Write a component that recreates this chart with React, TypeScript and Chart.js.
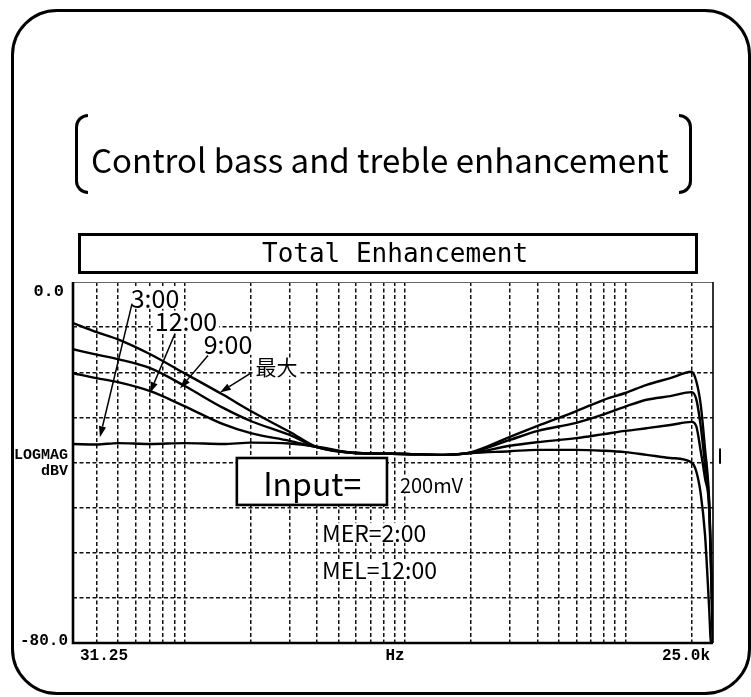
import React, { useEffect, useRef } from "react";
import { Chart, registerables } from "chart.js";

Chart.register(...registerables);

// ---- data ----
const FREQS = [31.25, 40, 50, 70, 100, 150, 200, 300, 400, 600, 1000, 1500, 2000, 3000, 4000, 6000, 8000, 10000, 12500, 16000, 20000, 21000, 22000, 23000, 24000, 24500, 25000];
const MAX_DB = [-9.1, -11.1, -12.7, -16.0, -20.2, -25.0, -28.6, -33.2, -36.6, -37.9, -38.1, -38.3, -37.7, -34.3, -31.9, -28.6, -26.1, -24.6, -22.8, -21.3, -19.9, -22.0, -27.3, -37.0, -48.0, -62.0, -80.0];
const NINE_DB = [-14.9, -16.1, -17.1, -19.1, -23.0, -27.9, -30.8, -33.9, -36.6, -37.9, -38.1, -38.3, -37.8, -35.0, -33.0, -31.2, -29.3, -27.6, -26.1, -25.3, -24.4, -26.0, -32.0, -40.5, -49.0, -63.0, -80.0];
const TWELVE_DB = [-20.2, -21.3, -22.2, -24.2, -27.5, -31.5, -33.5, -35.2, -36.6, -37.9, -38.1, -38.3, -37.9, -36.3, -35.5, -34.6, -33.7, -33.0, -32.4, -31.7, -31.0, -32.0, -37.5, -43.5, -50.0, -64.0, -80.0];
const THREE_DB = [-35.9, -36.0, -35.7, -35.9, -35.7, -35.9, -35.6, -35.8, -36.5, -37.9, -38.1, -38.3, -37.9, -37.5, -37.2, -37.2, -37.4, -37.7, -38.3, -39.0, -40.0, -42.0, -47.0, -56.0, -72.0, -80.0, -80.0];

const X_MIN = 31.25;
const X_MAX = 25000;
const Y_MIN = -80;
const Y_MAX = 0;
const X_GRID = [40, 50, 60, 70, 80, 90, 100, 200, 300, 400, 500, 600, 700, 800, 900, 1000, 2000, 3000, 4000, 5000, 6000, 7000, 8000, 9000, 10000, 20000];
const Y_GRID = [-10, -20, -30, -40, -50, -60, -70];

const Y_TOP_LABEL = "0.0";
const Y_BOTTOM_LABEL = "-80.0";
const Y_UNIT_LABELS = ["LOGMAG", "dBV"];
const X_LABELS = ["31.25", "Hz", "25.0k"];

// annotation anchors in data coordinates (frequency, dB)
const CURVE_LABELS = [
  { text: "3:00", f: 73.6, db: -3.6, size: 25 },
  { text: "12:00", f: 101.7, db: -8.7, size: 25 },
  { text: "9:00", f: 157.7, db: -13.8, size: 25 },
  { text: "最大", f: 262, db: -18.8, size: 21 },
];
const ARROWS = [
  { f0: 57.9, d0: -4.8, f1: 41.4, d1: -34.4 },
  { f0: 90.7, d0: -11.4, f1: 69.8, d1: -24.6 },
  { f0: 128, d0: -16.3, f1: 95.5, d1: -23.6 },
  { f0: 198.5, d0: -20.3, f1: 145, d1: -24.5 },
];
const INPUT_BOX = { f0: 173, f1: 830, d0: -39.0, d1: -49.4, text: "Input=", tf: 380, td: -44.8 };
const NOTES = [
  { text: "200mV", f: 950, db: -45.0, size: 20 },
  { text: "MER=2:00", f: 421, db: -55.6, size: 23 },
  { text: "MEL=12:00", f: 421, db: -63.8, size: 23 },
];
const REF_MARK = { d0: -36.9, d1: -40.3 };

const TITLE = "Control bass and treble enhancement";
const SUBTITLE = "Total Enhancement";

function whiteBehind(ctx: any, text: string, x: number, y: number, align: string, h: number) {
  const w = ctx.measureText(text).width;
  const left = align === "center" ? x - w / 2 : align === "right" ? x - w : x;
  ctx.save();
  ctx.fillStyle = "#fff";
  ctx.fillRect(left - 2, y - h / 2, w + 4, h);
  ctx.restore();
}

const overlayPlugin = {
  id: "overlay",
  afterDraw(chart: any) {
    const { ctx, chartArea: a, scales } = chart;
    const X = (f: number) => scales.x.getPixelForValue(f);
    const Y = (d: number) => scales.y.getPixelForValue(d);
    ctx.save();
    ctx.setLineDash([]);

    // plot frame
    ctx.strokeStyle = "#666";
    ctx.lineWidth = 1;
    ctx.beginPath();
    ctx.moveTo(a.left, a.top + 0.5);
    ctx.lineTo(a.right, a.top + 0.5);
    ctx.stroke();
    ctx.strokeStyle = "#000";
    ctx.lineWidth = 1.6;
    ctx.beginPath();
    ctx.moveTo(a.right, a.top);
    ctx.lineTo(a.right, a.bottom);
    ctx.stroke();
    ctx.lineWidth = 2.6;
    ctx.beginPath();
    ctx.moveTo(a.left, a.top);
    ctx.lineTo(a.left, a.bottom);
    ctx.lineTo(a.right, a.bottom);
    ctx.stroke();

    // reference level mark right of plot
    ctx.lineWidth = 2;
    ctx.beginPath();
    ctx.moveTo(a.right + 7, Y(REF_MARK.d0));
    ctx.lineTo(a.right + 7, Y(REF_MARK.d1));
    ctx.stroke();

    // axis labels
    ctx.fillStyle = "#000";
    ctx.textBaseline = "middle";
    ctx.font = "bold 17px 'Liberation Mono'";
    ctx.textAlign = "right";
    ctx.fillText(Y_TOP_LABEL, a.left - 9, a.top + 10);
    ctx.font = "bold 16px 'Liberation Mono'";
    ctx.fillText(Y_BOTTOM_LABEL, a.left - 5, a.bottom - 2);
    ctx.font = "bold 15px 'Liberation Mono'";
    ctx.fillText(Y_UNIT_LABELS[0], a.left - 5, Y(-38.3));
    ctx.fillText(Y_UNIT_LABELS[1], a.left - 5, Y(-42.0));
    ctx.font = "bold 16px 'Liberation Mono'";
    ctx.textAlign = "left";
    ctx.fillText(X_LABELS[0], a.left + 7, a.bottom + 13);
    ctx.textAlign = "center";
    ctx.fillText(X_LABELS[1], (a.left + a.right) / 2 + 2, a.bottom + 13);
    ctx.textAlign = "right";
    ctx.fillText(X_LABELS[2], a.right - 3, a.bottom + 13);

    // curve labels (white backing like the original plot)
    ctx.textAlign = "center";
    CURVE_LABELS.forEach((l) => {
      ctx.font = `${l.size}px 'Noto Sans CJK JP'`;
      whiteBehind(ctx, l.text, X(l.f), Y(l.db), "center", l.size * 0.85);
    });
    ctx.fillStyle = "#000";
    CURVE_LABELS.forEach((l) => {
      ctx.font = `${l.size}px 'Noto Sans CJK JP'`;
      ctx.fillText(l.text, X(l.f), Y(l.db));
    });

    // arrows
    ctx.lineWidth = 1.5;
    ARROWS.forEach((r) => {
      const x0 = X(r.f0), y0 = Y(r.d0), x1 = X(r.f1), y1 = Y(r.d1);
      const ang = Math.atan2(y1 - y0, x1 - x0);
      const L = 11, W = 3.6;
      const bx = x1 - L * Math.cos(ang), by = y1 - L * Math.sin(ang);
      ctx.beginPath();
      ctx.moveTo(x0, y0);
      ctx.lineTo(bx, by);
      ctx.stroke();
      ctx.beginPath();
      ctx.moveTo(x1, y1);
      ctx.lineTo(bx + W * Math.sin(ang), by - W * Math.cos(ang));
      ctx.lineTo(bx - W * Math.sin(ang), by + W * Math.cos(ang));
      ctx.closePath();
      ctx.fill();
    });

    // input box
    const bx0 = X(INPUT_BOX.f0), bx1 = X(INPUT_BOX.f1), by0 = Y(INPUT_BOX.d0), by1 = Y(INPUT_BOX.d1);
    ctx.fillStyle = "#fff";
    ctx.fillRect(bx0, by0, bx1 - bx0, by1 - by0);
    ctx.strokeStyle = "#000";
    ctx.lineWidth = 2.6;
    ctx.strokeRect(bx0, by0, bx1 - bx0, by1 - by0);
    ctx.fillStyle = "#000";
    ctx.font = "32px 'Noto Sans CJK JP'";
    ctx.textAlign = "center";
    ctx.fillText(INPUT_BOX.text, X(INPUT_BOX.tf), Y(INPUT_BOX.td));

    // notes
    ctx.textAlign = "left";
    NOTES.forEach((n) => {
      ctx.font = `${n.size}px 'Noto Sans CJK JP'`;
      whiteBehind(ctx, n.text, X(n.f), Y(n.db), "left", n.size * 0.85);
    });
    ctx.fillStyle = "#000";
    NOTES.forEach((n) => {
      ctx.font = `${n.size}px 'Noto Sans CJK JP'`;
      ctx.fillText(n.text, X(n.f), Y(n.db));
    });
    ctx.restore();
  },
};

function series(values: number[]) {
  return FREQS.map((f, i) => ({ x: f, y: values[i] }));
}

export default function App() {
  const ref = useRef<HTMLCanvasElement>(null);
  useEffect(() => {
    const lineStyle = {
      borderColor: "#000",
      borderWidth: 2.4,
      pointRadius: 0,
      fill: false,
      cubicInterpolationMode: "monotone" as const,
    };
    const chart = new Chart(ref.current as HTMLCanvasElement, {
      type: "line",
      data: {
        datasets: [
          { label: "最大", data: series(MAX_DB), ...lineStyle },
          { label: "9:00", data: series(NINE_DB), ...lineStyle },
          { label: "12:00", data: series(TWELVE_DB), ...lineStyle },
          { label: "3:00", data: series(THREE_DB), ...lineStyle },
        ],
      },
      options: {
        animation: false,
        responsive: false,
        maintainAspectRatio: false,
        devicePixelRatio: 1,
        layout: { padding: { left: 73, top: 282, right: 38, bottom: 54 } },
        plugins: { legend: { display: false }, tooltip: { enabled: false }, title: { display: false } },
        scales: {
          x: {
            type: "logarithmic",
            min: X_MIN,
            max: X_MAX,
            afterBuildTicks: (s: any) => {
              s.ticks = X_GRID.map((v) => ({ value: v }));
            },
            ticks: { display: false },
            grid: { color: "#111", lineWidth: 1.5, drawTicks: false },
            border: { display: false, dash: [4, 2.5] },
          },
          y: {
            type: "linear",
            min: Y_MIN,
            max: Y_MAX,
            afterBuildTicks: (s: any) => {
              s.ticks = Y_GRID.map((v) => ({ value: v }));
            },
            ticks: { display: false },
            grid: { color: "#111", lineWidth: 1.5, drawTicks: false },
            border: { display: false, dash: [4, 2.5] },
          },
        },
      },
      plugins: [overlayPlugin],
    } as any);
    return () => chart.destroy();
  }, []);

  const bracket = (left: number, flip: boolean): React.CSSProperties => ({
    position: "absolute",
    left,
    top: 114,
    width: 13,
    height: 80,
    boxSizing: "border-box",
    border: "3px solid #000",
    borderRight: flip ? "3px solid #000" : "none",
    borderLeft: flip ? "none" : "3px solid #000",
    borderRadius: flip ? "0 14px 14px 0" : "14px 0 0 14px",
  });

  return (
    <div style={{ position: "absolute", left: 0, top: 0, width: 751, height: 697, background: "#fff", overflow: "hidden" }}>
      <canvas ref={ref} width={751} height={697} style={{ position: "absolute", left: 0, top: 0, width: 751, height: 697 }} />
      <div
        style={{
          position: "absolute",
          left: 11,
          top: 9,
          width: 740,
          height: 686,
          boxSizing: "border-box",
          border: "3px solid #000",
          borderRadius: 46,
          pointerEvents: "none",
        }}
      />
      <div style={bracket(75, false)} />
      <div style={bracket(679, true)} />
      <div
        style={{
          position: "absolute",
          left: 91,
          top: 141,
          fontFamily: "'Noto Sans CJK JP'",
          fontSize: 33,
          lineHeight: "36px",
          whiteSpace: "nowrap",
          color: "#000",
        }}
      >
        {TITLE}
      </div>
      <div
        style={{
          position: "absolute",
          left: 78,
          top: 233,
          width: 620,
          height: 41,
          boxSizing: "border-box",
          border: "3px solid #000",
        }}
      />
      <div
        style={{
          position: "absolute",
          left: 262,
          top: 238,
          fontFamily: "'DejaVu Sans Mono'",
          fontSize: 26,
          lineHeight: "30px",
          whiteSpace: "nowrap",
          color: "#000",
        }}
      >
        {SUBTITLE}
      </div>
    </div>
  );
}
